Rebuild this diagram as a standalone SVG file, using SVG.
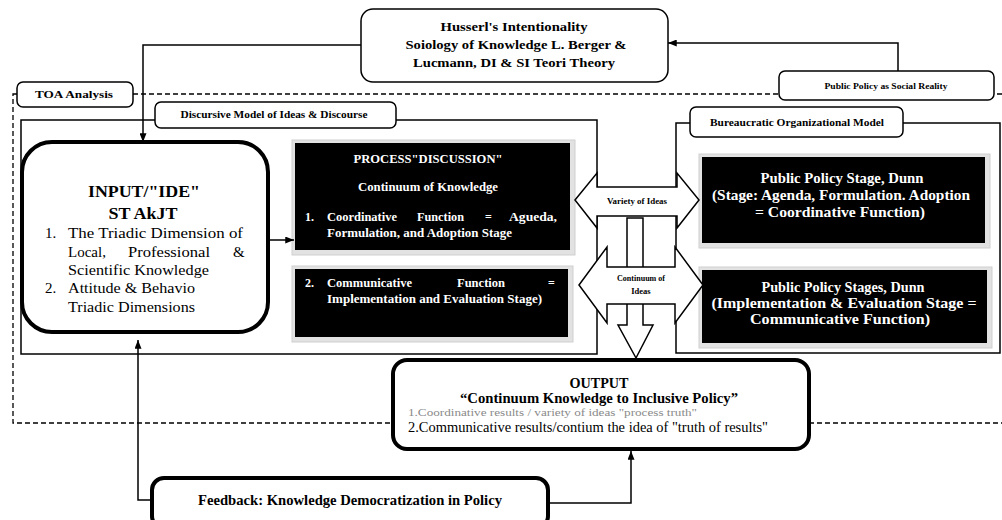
<svg xmlns="http://www.w3.org/2000/svg" width="1002" height="520" viewBox="0 0 1002 520" font-family="'Liberation Serif', 'Times New Roman', serif">
<style>
.box{fill:#fff;stroke:#000;stroke-width:1.5}
.thick{fill:#fff;stroke:#000;stroke-width:4}
.blk{fill:#000}
.shd{fill:#e2e2e2;stroke:#cfcfcf;stroke-width:1}
.con{fill:none;stroke:#000;stroke-width:1.5}
.dash{fill:none;stroke:#000;stroke-width:1.3;stroke-dasharray:5 3}
.arr{fill:#fff;stroke:#000;stroke-width:1.5;stroke-linejoin:miter}
text{font-family:'Liberation Serif','Times New Roman',serif;fill:#000}
.b{font-weight:bold}
.w{fill:#fff;font-weight:bold}
.m{text-anchor:middle}
.g{fill:#8a8a8a}
</style>
<defs>
<marker id="ah" viewBox="0 0 10 8" refX="10" refY="4" markerWidth="9" markerHeight="7" markerUnits="userSpaceOnUse" orient="auto">
<path d="M0,0 L10,4 L0,8 z" fill="#000"/>
</marker>
</defs>

<rect class="dash" x="13" y="94" width="1000" height="329"/>

<g id="husserl">
<rect class="box" x="361" y="9" width="307" height="73" rx="12"/>
<text class="b m" x="514" y="31" font-size="13.5" textLength="147" lengthAdjust="spacingAndGlyphs">Husserl's Intentionality</text>
<text class="b m" x="516" y="49" font-size="13.5" textLength="221" lengthAdjust="spacingAndGlyphs">Soiology of Knowledge L. Berger &amp;</text>
<text class="b m" x="514" y="67" font-size="13.5" textLength="202" lengthAdjust="spacingAndGlyphs">Lucmann, DI &amp; SI Teori Theory</text>
</g>

<g id="toa">
<rect class="box" x="17" y="82" width="116" height="25" rx="6"/>
<text class="b m" x="74" y="98" font-size="11" textLength="78" lengthAdjust="spacingAndGlyphs">TOA Analysis</text>
</g>

<g id="discursive-container">
<rect class="box" x="21" y="120" width="576" height="234"/>
</g>
<g id="bureaucratic-container">
<rect class="box" x="676" y="123" width="324" height="230"/>
</g>

<g id="public-policy-social">
<rect class="box" x="779" y="71" width="215" height="29" rx="6"/>
<text class="b m" x="886" y="89" font-size="8" textLength="123" lengthAdjust="spacingAndGlyphs">Public Policy as Social Reality</text>
</g>

<g id="discursive-label">
<rect class="box" x="155" y="102" width="241" height="26" rx="6"/>
<text class="b m" x="274" y="118" font-size="9.5" textLength="187" lengthAdjust="spacingAndGlyphs">Discursive Model of Ideas &amp; Discourse</text>
</g>

<g id="bureaucratic-label">
<rect class="box" x="690" y="107" width="213" height="30" rx="6"/>
<text class="b m" x="797" y="126" font-size="9.5" textLength="174" lengthAdjust="spacingAndGlyphs">Bureaucratic Organizational Model</text>
</g>

<g id="input">
<rect class="thick" x="22" y="142" width="246" height="190" rx="30"/>
<text class="b m" x="144" y="197" font-size="17" textLength="112" lengthAdjust="spacingAndGlyphs">INPUT/"IDE"</text>
<text class="b m" x="143" y="219" font-size="17" textLength="69" lengthAdjust="spacingAndGlyphs">ST AkJT</text>
<text x="45" y="238" font-size="15">1.</text>
<text x="68" y="238" font-size="15" textLength="175" lengthAdjust="spacingAndGlyphs">The Triadic Dimension of</text>
<text x="68" y="257" font-size="15">Local,</text>
<text x="128" y="257" font-size="15" textLength="82" lengthAdjust="spacingAndGlyphs">Professional</text>
<text x="233" y="257" font-size="15">&amp;</text>
<text x="68" y="275" font-size="15" textLength="141" lengthAdjust="spacingAndGlyphs">Scientific Knowledge</text>
<text x="45" y="293" font-size="15">2.</text>
<text x="68" y="293" font-size="15" textLength="127" lengthAdjust="spacingAndGlyphs">Attitude &amp; Behavio</text>
<text x="68" y="312" font-size="15" textLength="127" lengthAdjust="spacingAndGlyphs">Triadic Dimensions</text>
</g>

<g id="process">
<rect class="shd" x="292" y="140" width="283" height="115"/>
<rect class="blk" x="295" y="143" width="275" height="107"/>
<text class="w m" x="428" y="163" font-size="11.5" textLength="149" lengthAdjust="spacingAndGlyphs">PROCESS"DISCUSSION"</text>
<text class="w m" x="428" y="191" font-size="12" textLength="140" lengthAdjust="spacingAndGlyphs">Continuum   of Knowledge</text>
<text class="w" x="305" y="221" font-size="12">1.</text>
<text class="w" x="327" y="221" font-size="12" textLength="70" lengthAdjust="spacingAndGlyphs">Coordinative</text>
<text class="w" x="417" y="221" font-size="12" textLength="47" lengthAdjust="spacingAndGlyphs">Function</text>
<text class="w" x="485" y="221" font-size="12">=</text>
<text class="w" x="509" y="221" font-size="12" textLength="48" lengthAdjust="spacingAndGlyphs">Agueda,</text>
<text class="w" x="327" y="237" font-size="12" textLength="185" lengthAdjust="spacingAndGlyphs">Formulation, and Adoption Stage</text>
</g>

<g id="process-2">
<rect class="shd" x="292" y="266" width="281" height="76"/>
<rect class="blk" x="295" y="269" width="273" height="68"/>
<text class="w" x="305" y="287" font-size="12">2.</text>
<text class="w" x="327" y="287" font-size="12" textLength="85" lengthAdjust="spacingAndGlyphs">Communicative</text>
<text class="w" x="457" y="287" font-size="12" textLength="48" lengthAdjust="spacingAndGlyphs">Function</text>
<text class="w" x="548" y="287" font-size="12">=</text>
<text class="w" x="327" y="303" font-size="12" textLength="215" lengthAdjust="spacingAndGlyphs">Implementation and Evaluation Stage)</text>
</g>

<g id="dunn-1">
<rect class="shd" x="699" y="154" width="291" height="94"/>
<rect class="blk" x="702" y="157" width="283" height="86"/>
<text class="w m" x="842" y="183" font-size="14" textLength="163" lengthAdjust="spacingAndGlyphs">Public Policy Stage, Dunn</text>
<text class="w m" x="841" y="200" font-size="14" textLength="258" lengthAdjust="spacingAndGlyphs">(Stage: Agenda, Formulation. Adoption</text>
<text class="w m" x="840" y="217" font-size="14" textLength="170" lengthAdjust="spacingAndGlyphs">= Coordinative Function)</text>
</g>

<g id="dunn-2">
<rect class="shd" x="699" y="267" width="293" height="81"/>
<rect class="blk" x="702" y="270" width="285" height="73"/>
<text class="w m" x="843" y="292" font-size="14" textLength="163" lengthAdjust="spacingAndGlyphs">Public Policy Stages, Dunn</text>
<text class="w m" x="844" y="308" font-size="14" textLength="265" lengthAdjust="spacingAndGlyphs">(Implementation &amp; Evaluation Stage =</text>
<text class="w m" x="840" y="324" font-size="14" textLength="180" lengthAdjust="spacingAndGlyphs">Communicative Function)</text>
</g>

<g id="continuum-down">
<polygon class="arr" points="627,218 643,218 643,325 653,325 636,358 618,325 627,325"/>
</g>
<g id="variety-of-ideas">
<polygon class="arr" points="575,200 597,173 597,187 677,187 677,173 699,200 677,228 677,216 597,216 597,228"/>
<text class="b m" x="637" y="204" font-size="9" textLength="60" lengthAdjust="spacingAndGlyphs">Variety of Ideas</text>
</g>
<g id="continuum-of-ideas">
<polygon class="arr" points="579,285 607,247 607,267 675,267 675,247 703,285 675,323 675,304 607,304 607,323"/>
<text class="b m" x="641" y="281" font-size="8.5" textLength="48" lengthAdjust="spacingAndGlyphs">Continuum of</text>
<text class="b m" x="641" y="294" font-size="8.5">Ideas</text>
</g>

<g id="output">
<rect class="thick" x="393" y="360" width="416" height="89" rx="14"/>
<text class="b m" x="599" y="388" font-size="14.5" textLength="59" lengthAdjust="spacingAndGlyphs">OUTPUT</text>
<text class="b m" x="599" y="403" font-size="15" textLength="278" lengthAdjust="spacingAndGlyphs">“Continuum Knowledge to Inclusive Policy”</text>
<text class="g" x="408" y="416" font-size="11" textLength="289" lengthAdjust="spacingAndGlyphs">1.Coordinative results / variety of ideas "process truth"</text>
<text x="408" y="432" font-size="14" textLength="360" lengthAdjust="spacingAndGlyphs">2.Communicative results/contium the idea of "truth of results"</text>
</g>

<g id="feedback">
<rect class="thick" x="152" y="478" width="396" height="50" rx="12"/>
<text class="b m" x="350" y="505" font-size="14.5" textLength="304" lengthAdjust="spacingAndGlyphs">Feedback: Knowledge Democratization in Policy</text>
</g>

<g id="connectors">
<path class="con" d="M361,45 H143 V142" marker-end="url(#ah)"/>
<path class="con" d="M898,71 V43 H668" marker-end="url(#ah)"/>
<path class="con" d="M268,240 H294" marker-end="url(#ah)"/>
<path class="con" d="M152,500 H138 V340" marker-end="url(#ah)"/>
<path class="con" d="M548,503 H631 V451" marker-end="url(#ah)"/>
</g>
</svg>
